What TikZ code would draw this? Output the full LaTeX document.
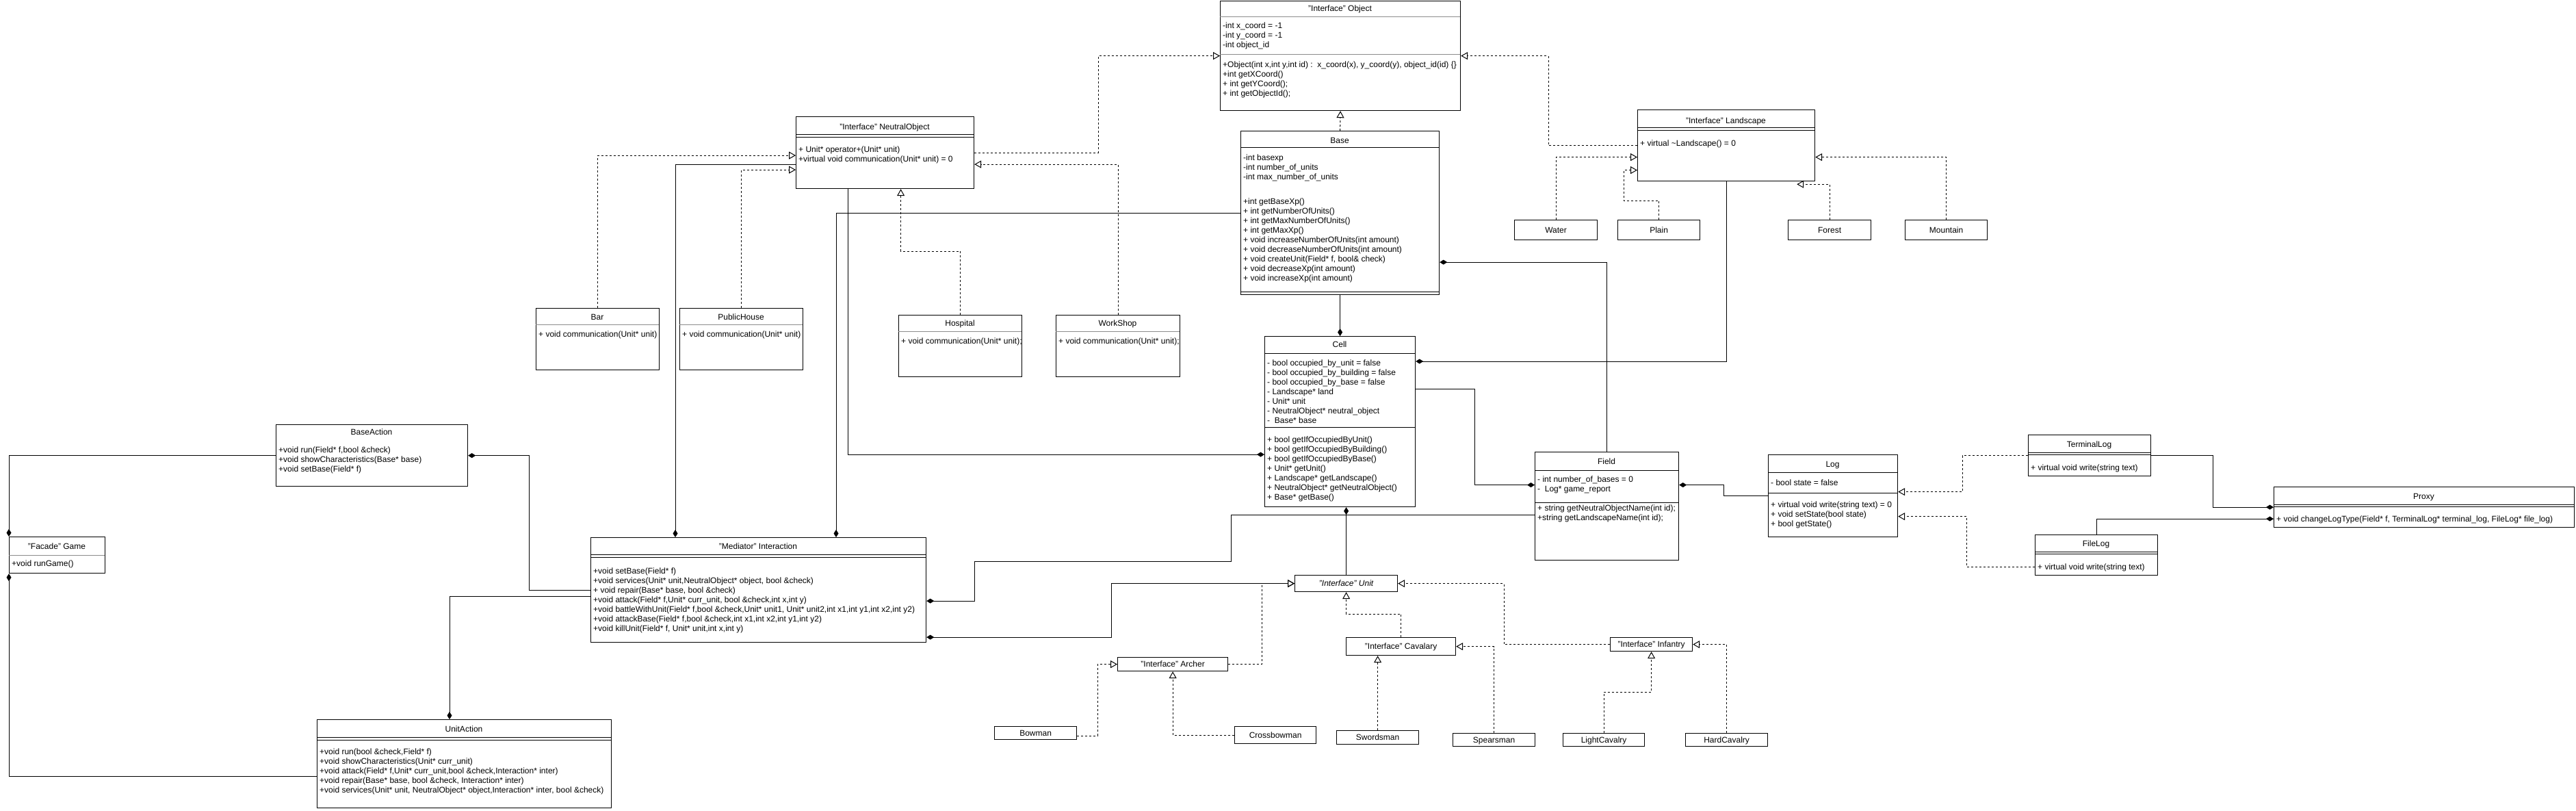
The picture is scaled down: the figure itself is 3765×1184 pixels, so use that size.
\documentclass[tikz,border=0pt]{standalone}
\usepackage{fontspec}
\setmainfont{Liberation Sans}
\usetikzlibrary{arrows.meta,calc}

\begin{document}
\begin{tikzpicture}[x=1pt,y=-1pt,
		every node/.style={font=\fontsize{12}{14}\selectfont},
		cls/.style={draw,line width=1.2pt,anchor=north west,inner sep=0pt},
		leaf/.style={cls,text height=8.6pt,text depth=0pt},
		ttl/.style={anchor=base},
		mem/.style={anchor=north west,align=left,inner sep=0pt,execute at begin node=\strut},
		gsep/.style={draw=black!45,line width=1pt},
		bsep/.style={draw=black,line width=1pt},
		real/.style={line width=1pt,dash pattern=on 3pt off 3pt,-{Triangle[open,length=10pt,width=11pt]}},
		comp/.style={line width=1pt,-{Diamond[length=11pt,width=7pt]}}]
		\path[use as bounding box,fill=white] (0,0) rectangle (3765,1184);

		\node[cls,minimum width=351pt,minimum height=160pt] (object) at (1783,1) {};
		\node[ttl] (objectttl) at (1958.5,16) {"Interface" Object};
		\draw[gsep] (1783,24) -- (2134,24);
		\draw[gsep] (1783,79) -- (2134,79);
		\node[mem] (objectattr) at (1787,32.5) {-int x\_coord = -1\\-int y\_coord = -1\\-int object\_id};
		\node[mem] (objectops) at (1787,89.5) {+Object(int x,int y,int id) :\ \ x\_coord(x), y\_coord(y), object\_id(id) \{\}\\+int getXCoord()\\+ int getYCoord();\\+ int getObjectId();};

		\node[cls,minimum width=260pt,minimum height=105pt] (neutral) at (1163,170) {};
		\node[ttl] (neutralttl) at (1293,189) {"Interface" NeutralObject};
		\draw[bsep] (1163,196) -- (1423,196);
		\draw[bsep] (1163,200) -- (1423,200);
		\node[mem] (neutralops) at (1167,213.5) {+ Unit* operator+(Unit* unit)\\+virtual void communication(Unit* unit) = 0};

		\node[cls,minimum width=290pt,minimum height=239pt] (base) at (1813,191) {};
		\node[ttl] (basettl) at (1958,209) {Base};
		\draw[bsep] (1813,215) -- (2103,215);
		\draw[bsep] (1813,426) -- (2103,426);
		\node[mem] (baseattr) at (1817,225.5) {-int basexp\\-int number\_of\_units\\-int max\_number\_of\_units};
		\node[mem] (baseops) at (1817,289.5) {+int getBaseXp()\\+ int getNumberOfUnits()\\+ int getMaxNumberOfUnits()\\+ int getMaxXp()\\+ void increaseNumberOfUnits(int amount)\\+ void decreaseNumberOfUnits(int amount)\\+ void createUnit(Field* f, bool\& check)\\+ void decreaseXp(int amount)\\+ void increaseXp(int amount)};

		\node[cls,minimum width=259pt,minimum height=104pt] (landscape) at (2393,160) {};
		\node[ttl] (landscapettl) at (2522.5,180) {"Interface" Landscape};
		\draw[bsep] (2393,186) -- (2652,186);
		\draw[bsep] (2393,190) -- (2652,190);
		\node[mem] (landscapeops) at (2397,203.5) {+ virtual \textasciitilde Landscape() = 0};

		\node[leaf,minimum width=121pt,minimum height=29pt] (water) at (2213,321) {Water};
		\node[leaf,minimum width=120pt,minimum height=29pt] (plain) at (2364,321) {Plain};
		\node[leaf,minimum width=121pt,minimum height=29pt] (forest) at (2613,321) {Forest};
		\node[leaf,minimum width=120pt,minimum height=29pt] (mountain) at (2784,321) {Mountain};

		\node[cls,minimum width=180pt,minimum height=90pt] (bar) at (783,450) {};
		\node[ttl] (barttl) at (873,467) {Bar};
		\draw[gsep] (783,474) -- (963,474);
		\node[mem] (barops) at (787,482.5) {+ void communication(Unit* unit)};

		\node[cls,minimum width=180pt,minimum height=90pt] (publichouse) at (993,450) {};
		\node[ttl] (publichousettl) at (1083,467) {PublicHouse};
		\draw[gsep] (993,474) -- (1173,474);
		\node[mem] (publichouseops) at (997,482.5) {+ void communication(Unit* unit)};

		\node[cls,minimum width=180pt,minimum height=90pt] (hospital) at (1313,460) {};
		\node[ttl] (hospitalttl) at (1403,476) {Hospital};
		\draw[gsep] (1313,484) -- (1493,484);
		\node[mem] (hospitalops) at (1317,492.5) {+ void communication(Unit* unit);};

		\node[cls,minimum width=181pt,minimum height=90pt] (workshop) at (1543,460) {};
		\node[ttl] (workshopttl) at (1633.5,476) {WorkShop};
		\draw[gsep] (1543,484) -- (1724,484);
		\node[mem] (workshopops) at (1547,492.5) {+ void communication(Unit* unit);};

		\node[cls,minimum width=220pt,minimum height=249pt] (cell) at (1848,491) {};
		\node[ttl] (cellttl) at (1958,507) {Cell};
		\draw[bsep] (1848,516) -- (2068,516);
		\draw[bsep] (1848,624) -- (2068,624);
		\node[mem] (cellattr) at (1852,525.5) {- bool occupied\_by\_unit = false\\- bool occupied\_by\_building = false\\- bool occupied\_by\_base = false\\- Landscape* land\\- Unit* unit\\- NeutralObject* neutral\_object\\-\ \ Base* base};
		\node[mem] (cellops) at (1852,637.5) {+ bool getIfOccupiedByUnit()\\+ bool getIfOccupiedByBuilding()\\+ bool getIfOccupiedByBase()\\+ Unit* getUnit()\\+ Landscape* getLandscape()\\+ NeutralObject* getNeutralObject()\\+ Base* getBase()};

		\node[cls,minimum width=210pt,minimum height=158pt] (field) at (2243,660) {};
		\node[ttl] (fieldttl) at (2348,678) {Field};
		\draw[bsep] (2243,687) -- (2453,687);
		\draw[bsep] (2243,734) -- (2453,734);
		\node[mem] (fieldattr) at (2247,695.5) {- int number\_of\_bases = 0\\-\ \ Log* game\_report};
		\node[mem] (fieldops) at (2247,737.5) {+ string getNeutralObjectName(int id);\\+string getLandscapeName(int id);};

		\node[cls,minimum width=189pt,minimum height=120pt] (log) at (2584,664) {};
		\node[ttl] (logttl) at (2678.5,682) {Log};
		\draw[bsep] (2584,690) -- (2773,690);
		\draw[bsep] (2584,720) -- (2773,720);
		\node[mem] (logattr) at (2588,699.5) {- bool state = false};
		\node[mem] (logops) at (2588,732.5) {+ virtual void write(string text) = 0\\+ void setState(bool state)\\+ bool getState()};

		\node[cls,minimum width=179pt,minimum height=60pt] (terminallog) at (2964,635) {};
		\node[ttl] (terminallogttl) at (3053.5,653) {TerminalLog};
		\draw[bsep] (2964,661) -- (3143,661);
		\draw[bsep] (2964,664.5) -- (3143,664.5);
		\node[mem] (terminallogops) at (2968,677.5) {+ virtual void write(string text)};

		\node[cls,minimum width=179pt,minimum height=59pt] (filelog) at (2974,781) {};
		\node[ttl] (filelogttl) at (3063.5,798) {FileLog};
		\draw[bsep] (2974,806) -- (3153,806);
		\draw[bsep] (2974,809.5) -- (3153,809.5);
		\node[mem] (filelogops) at (2978,822.5) {+ virtual void write(string text)};

		\node[cls,minimum width=439pt,minimum height=59pt] (proxy) at (3323,711) {};
		\node[ttl] (proxyttl) at (3542.5,729) {Proxy};
		\draw[bsep] (3323,737) -- (3762,737);
		\draw[bsep] (3323,740.5) -- (3762,740.5);
		\node[mem] (proxyops) at (3327,752.5) {+ void changeLogType(Field* f, TerminalLog* terminal\_log, FileLog* file\_log)};

		\node[cls,minimum width=280pt,minimum height=90pt] (baseaction) at (403,620) {};
		\node[ttl] (baseactionttl) at (543,635) {BaseAction};
		\node[mem] (baseactionops) at (407,652.5) {+void run(Field* f,bool \&check)\\+void showCharacteristics(Base* base)\\+void setBase(Field* f)};

		\node[cls,minimum width=140pt,minimum height=53pt] (facade) at (13,784) {};
		\node[ttl] (facadettl) at (83,802) {"Facade" Game};
		\draw[gsep] (13,811) -- (153,811);
		\node[mem] (facadeops) at (17,817.5) {+void runGame()};

		\node[cls,minimum width=490pt,minimum height=153pt] (interaction) at (863,785) {};
		\node[ttl] (interactionttl) at (1108,802) {"Mediator" Interaction};
		\draw[bsep] (863,810) -- (1353,810);
		\draw[bsep] (863,814) -- (1353,814);
		\node[mem] (interactionops) at (867,829.5) {+void setBase(Field* f)\\+void services(Unit* unit,NeutralObject* object, bool \&check)\\+ void repair(Base* base, bool \&check)\\+void attack(Field* f,Unit* curr\_unit, bool \&check,int x,int y)\\+void battleWithUnit(Field* f,bool \&check,Unit* unit1, Unit* unit2,int x1,int y1,int x2,int y2)\\+void attackBase(Field* f,bool \&check,int x1,int x2,int y1,int y2)\\+void killUnit(Field* f, Unit* unit,int x,int y)};

		\node[cls,minimum width=430pt,minimum height=129pt] (unitaction) at (463,1051) {};
		\node[ttl] (unitactionttl) at (678,1069) {UnitAction};
		\draw[bsep] (463,1077) -- (893,1077);
		\draw[bsep] (463,1081) -- (893,1081);
		\node[mem] (unitactionops) at (467,1093.5) {+void run(bool \&check,Field* f)\\+void showCharacteristics(Unit* curr\_unit)\\+void attack(Field* f,Unit* curr\_unit,bool \&check,Interaction* inter)\\+void repair(Base* base, bool \&check, Interaction* inter)\\+void services(Unit* unit, NeutralObject* object,Interaction* inter, bool \&check)};

		\node[leaf,minimum width=150pt,minimum height=24pt] (unit) at (1892,840) {\itshape "Interface" Unit};
		\node[leaf,minimum width=161pt,minimum height=20pt] (archer) at (1633,960) {"Interface" Archer};
		\node[leaf,minimum width=160pt,minimum height=26pt] (cavalary) at (1967,931) {"Interface" Cavalary};
		\node[leaf,minimum width=120pt,minimum height=20pt] (infantry) at (2353,931) {"Interface" Infantry};
		\node[leaf,minimum width=120pt,minimum height=19pt] (bowman) at (1453,1061) {Bowman};
		\node[leaf,minimum width=119pt,minimum height=25pt] (crossbowman) at (1804,1061) {Crossbowman};
		\node[leaf,minimum width=120pt,minimum height=20pt] (swordsman) at (1953,1067) {Swordsman};
		\node[leaf,minimum width=120pt,minimum height=19pt] (spearsman) at (2123,1071) {Spearsman};
		\node[leaf,minimum width=119pt,minimum height=19pt] (lightcavalry) at (2284,1071) {LightCavalry};
		\node[leaf,minimum width=120pt,minimum height=19pt] (hardcavalry) at (2463,1071) {HardCavalry};

		\draw[real] (base.north) -- (object.south);
		\draw[real] (neutral.east) -- ++(181,0) |- (object.west);
		\draw[real] (landscape.west) -- ++(-130,0) |- (object.east);
		\draw[real] (water.north) |- ($(landscape.west)+(0,17)$);
		\draw[real] (plain.north) -- ++(0,-28) -| ($(landscape.west)+(-20,36)$) -- ($(landscape.west)+(0,36)$);
		\draw[real] (forest.north) |- ($(landscape.south east)+(-27,4)$);
		\draw[real] (mountain.north) |- ($(landscape.east)+(0,17)$);
		\draw[comp] (landscape.south) |- ($(cell.north east)+(0,37)$);
		\draw[comp] (field.north) |- ($(base.east)+(0,72)$);
		\draw[comp] (base.south) -- (cell.north);
		\draw[comp] (base.west) -| ($(interaction.north west)+(359,0)$);
		\draw[comp] ($(neutral.west)+(0,17)$) -| ($(interaction.north west)+(124,0)$);
		\draw[comp] ($(neutral.south west)+(76,0)$) |- ($(cell.west)+(0,48)$);
		\draw[real] (bar.north) |- ($(neutral.west)+(0,4)$);
		\draw[real] (publichouse.north) |- ($(neutral.west)+(0,25)$);
		\draw[real] (hospital.north) -- ++(0,-93) -| ($(neutral.south)+(23,0)$);
		\draw[real] (workshop.north) |- ($(neutral.east)+(0,17)$);
		\draw[comp] ($(cell.east)+(0,-48)$) -- ++(86,0) |- ($(field.west)+(0,-31)$);
		\draw[comp] ($(field.west)+(0,13)$) -- ++(-444,0) -- ++(0,68) -- ++(-375,0) |- ($(interaction.east)+(0,16)$);
		\draw[comp] (unit.north) -- (unit.north |- cell.south);
		\draw[line width=1pt,{Diamond[length=11pt,width=7pt]}-{Triangle[open,length=10pt,width=11pt]}] ($(interaction.east)+(0,69)$) -- ++(270,0) |- (unit.west);
		\draw[real] (archer.east) -- ++(49,0) |- (unit.west);
		\draw[real] (cavalary.north) -- ++(0,-34) -| (unit.south);
		\draw[real] (infantry.west) -- ++(-155,0) |- (unit.east);
		\draw[real] ($(bowman.east)+(0,4)$) -- ++(30,0) |- (archer.west);
		\draw[real] (crossbowman.west) -| (archer.south);
		\draw[real] (swordsman.north) -- (swordsman.north |- cavalary.south);
		\draw[real] (spearsman.north) |- (cavalary.east);
		\draw[real] (lightcavalry.north) -- ++(0,-60) -| (infantry.south);
		\draw[real] (hardcavalry.north) |- (infantry.east);
		\draw[comp] (interaction.west) -- ++(-90,0) |- (baseaction.east);
		\draw[comp] ($(interaction.west)+(0,9)$) -| ($(unitaction.north west)+(194,0)$);
		\draw[comp] (baseaction.west) -| (facade.north west);
		\draw[comp] ($(unitaction.west)+(0,18)$) -| (facade.south west);
		\draw[comp] (log.west) -- ++(-65,0) |- ($(field.east)+(0,-31)$);
		\draw[real] (terminallog.west) -- ++(-96,0) |- ($(log.east)+(0,-6)$);
		\draw[real] ($(filelog.west)+(0,17)$) -- ++(-100,0) |- ($(log.east)+(0,30)$);
		\draw[comp] (terminallog.east) -- ++(90,0) |- (proxy.west);
		\draw[comp] (filelog.north) |- ($(proxy.west)+(0,17)$);
	\end{tikzpicture}
\end{document}
